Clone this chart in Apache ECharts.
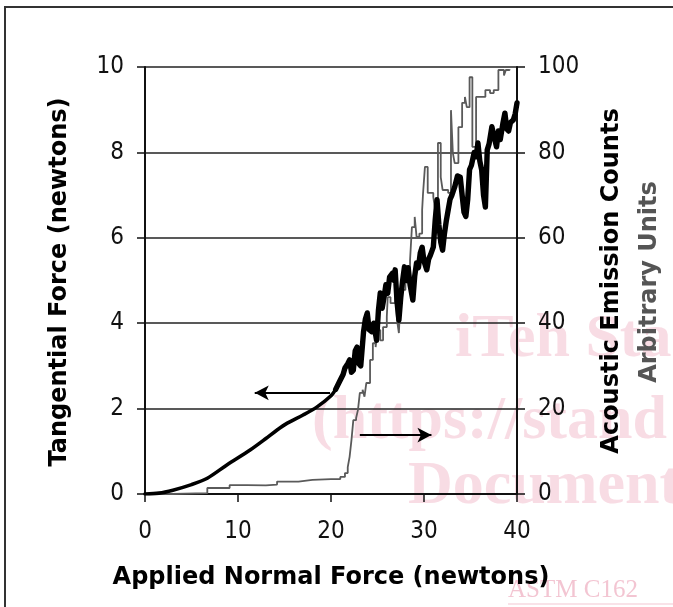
<!DOCTYPE html>
<html>
<head>
<meta charset="utf-8">
<script src="https://cdn.jsdelivr.net/npm/echarts@6/dist/echarts.min.js"></script>
<style>
html,body{margin:0;padding:0;background:#fff;overflow:hidden;}
#c{width:673px;height:607px;}
</style>
</head>
<body>
<div id="c"></div>
<script>
// Applied normal force (x) vs tangential force (left axis): smooth early part
var tanSmoothX = [0,1.5,3,5,6.7,8.8,11.3,13,14.2,15.3,17,18.5,20,20.5];
var tanSmoothY = [0,0.02,0.09,0.22,0.37,0.68,1.03,1.3,1.5,1.66,1.85,2.04,2.3,2.45];
// noisy later part
var tanNoisyX = [20.5,21,21.3,21.5,21.8,22,22.2,22.4,22.6,22.8,23.0,23.2,23.5,23.7,23.9,24.1,24.4,24.6,24.9,25.1,25.3,25.5,25.7,25.9,26.1,26.3,26.6,26.8,26.9,27.1,27.3,27.5,27.7,27.9,28.1,28.3,28.5,28.8,29.0,29.2,29.4,29.6,29.8,30.0,30.3,30.5,30.7,31.0,31.2,31.4,31.6,31.8,32.0,32.2,32.4,32.6,32.8,33.0,33.3,33.6,33.9,34.1,34.3,34.5,34.7,34.9,35.1,35.4,35.6,35.8,36.0,36.2,36.4,36.6,36.8,37.0,37.3,37.5,37.8,38.0,38.2,38.5,38.7,38.9,39.1,39.3,39.6,39.8,40.0];
var tanNoisyY = [2.45,2.67,2.8,2.95,3.05,3.14,2.85,2.9,3.35,3.44,3.05,3.0,3.8,4.1,4.24,3.85,3.8,4.0,3.6,4.3,4.71,4.35,4.6,4.9,4.7,5.08,5.17,5.0,5.25,4.5,4.07,4.6,5.0,5.32,5.0,5.3,4.9,4.54,5.1,5.41,5.3,5.65,5.78,5.45,5.25,5.5,5.6,5.78,6.4,6.89,6.3,5.9,5.71,6.1,6.4,6.65,6.9,7.0,7.19,7.45,7.42,7.0,6.6,6.5,6.9,7.6,7.7,8.0,7.9,8.22,7.8,7.59,7.0,6.72,8.06,8.2,8.6,8.4,8.13,8.5,8.3,8.7,8.92,8.55,8.5,8.7,8.76,8.9,9.16];
// Applied normal force (x) vs acoustic emission counts (right axis)
var aeX = [0,3,6.7,9.1,11,13,14.2,16.5,18,20,21,21.5,21.8,22.0,22.2,22.4,22.7,22.9,23.1,23.4,23.6,23.8,24.2,24.5,24.8,25.0,25.3,25.6,26.0,26.1,26.4,26.9,27.1,27.3,27.5,28.0,28.5,28.7,29.0,29.2,29.5,29.8,29.9,30.1,30.4,31.0,31.2,31.5,31.8,32.0,32.6,32.9,33.1,33.3,33.7,34.1,34.4,34.6,34.9,35.2,35.6,36.2,36.6,37.1,37.5,38.0,38.6,38.8,39.2];
var aeY = [0,0.2,1.4,2.1,2.0,2.2,2.9,3.3,3.5,3.5,4.0,4.9,6.3,8.7,12.6,17.3,17.8,19.7,23.7,24.4,22.8,26,31.4,35.3,34.4,38.4,36,39.1,41.5,46.1,44.7,49.4,40.7,37.7,47.8,50,54.8,62.5,64.9,60.2,61,66.5,70.5,76.6,70.5,69.6,66.5,82.2,74.2,71.2,70.5,89.9,79.9,77.5,85.9,91.6,93,90.6,97.6,81.3,93,93,94.6,93.9,94.6,99.3,98,99.3,99.5];
var xTicks = [0,10,20,30,40];
var leftTicks = [0,2,4,6,8,10];
var rightTicks = [0,20,40,60,80,100];

function pairs(xs, ys){ return xs.map(function(x,i){return [x, ys[i]];}); }

var FONT = '"DejaVu Sans Condensed","DejaVu Sans",sans-serif';
var TFONT = '"DejaVu Sans",sans-serif';
var WM = 'rgba(232,140,165,0.3)';
var chart = echarts.init(document.getElementById('c'));
var axisLineStyle = {color:'#111', width:2};
chart.setOption({
  animation:false,
  backgroundColor:'#fff',
  grid:{left:145, right:156, top:67, bottom:113},
  xAxis:{
    type:'value', min:xTicks[0], max:xTicks[xTicks.length-1], interval:10,
    axisLine:{show:true, onZero:false, lineStyle:axisLineStyle},
    axisTick:{show:true, inside:false, length:8, lineStyle:{color:'#111', width:1.5}},
    axisLabel:{fontFamily:FONT, fontSize:24, color:'#111', margin:26},
    splitLine:{show:false}
  },
  yAxis:[{
    type:'value', min:leftTicks[0], max:leftTicks[leftTicks.length-1], interval:2, position:'left',
    axisLine:{show:true, lineStyle:axisLineStyle},
    axisTick:{show:true, length:8, lineStyle:{color:'#111', width:1.5}},
    axisLabel:{fontFamily:FONT, fontSize:24, color:'#111', margin:21},
    splitLine:{show:true, lineStyle:{color:'#222', width:1.5}}
  },{
    type:'value', min:rightTicks[0], max:rightTicks[rightTicks.length-1], interval:20, position:'right',
    axisLine:{show:true, lineStyle:axisLineStyle},
    axisTick:{show:true, length:8, lineStyle:{color:'#111', width:1.5}},
    axisLabel:{fontFamily:FONT, fontSize:24, color:'#111', margin:21},
    splitLine:{show:false}
  }],
  series:[{
    type:'line', yAxisIndex:1, data:pairs(aeX,aeY), step:'end', showSymbol:false,
    lineStyle:{color:'#5a5a5a', width:1.8}, z:2
  },{
    type:'line', yAxisIndex:0, data:pairs(tanSmoothX,tanSmoothY), showSymbol:false, smooth:0.3,
    lineStyle:{color:'#000', width:3.6, join:'round', cap:'round'}, z:3,
    markLine:{
      silent:true, symbol:['none','arrow'], symbolSize:[11,14],
      label:{show:false},
      lineStyle:{color:'#000', width:1.8, type:'solid'},
      data:[
        [{coord:[19.9,2.37]},{coord:[11.8,2.37]}],
        [{coord:[23.1,1.38]},{coord:[30.8,1.38]}]
      ]
    }
  },{
    type:'line', yAxisIndex:0, data:pairs(tanNoisyX,tanNoisyY), showSymbol:false,
    lineStyle:{color:'#000', width:5.4, join:'round', cap:'round'}, z:3
  }],
  graphic:[
    {type:'text', x:455, y:340, style:{text:'iTeh Sta', font:'bold 62px "Liberation Serif",serif', fill:WM, align:'left', verticalAlign:'middle'}, z:0},
    {type:'text', x:312, y:422, style:{text:'(https://stand', font:'bold 62px "Liberation Serif",serif', fill:WM, align:'left', verticalAlign:'middle'}, z:0},
    {type:'text', x:408, y:487, style:{text:'Document', font:'bold 62px "Liberation Serif",serif', fill:WM, align:'left', verticalAlign:'middle'}, z:0},
    {type:'text', x:508, y:590, style:{text:'ASTM C162', font:'25px "Liberation Serif",serif', fill:'rgba(232,140,165,0.5)', align:'left', verticalAlign:'middle'}, z:0},
    {type:'line', shape:{x1:508,y1:604,x2:673,y2:604}, style:{stroke:'rgba(232,140,165,0.5)', lineWidth:1}, z:0},
    {type:'polyline', shape:{points:[[5,607],[5,7],[673,7]]}, style:{stroke:'#333', lineWidth:2, fill:null}, z:10},
    {type:'text', x:60, y:282, rotation:Math.PI/2, style:{text:'Tangential Force (newtons)', font:'bold 24px '+TFONT, fill:'#000', align:'center', verticalAlign:'middle'}},
    {type:'text', x:612, y:281, rotation:Math.PI/2, style:{text:'Acoustic Emission Counts', font:'bold 24px '+TFONT, fill:'#000', align:'center', verticalAlign:'middle'}},
    {type:'text', x:650, y:282, rotation:Math.PI/2, style:{text:'Arbitrary Units', font:'bold 24px '+TFONT, fill:'#555', align:'center', verticalAlign:'middle'}},
    {type:'text', x:331, y:578, style:{text:'Applied Normal Force (newtons)', font:'bold 24px '+TFONT, fill:'#000', align:'center', verticalAlign:'middle'}}
  ]
});
</script>
</body>
</html>
